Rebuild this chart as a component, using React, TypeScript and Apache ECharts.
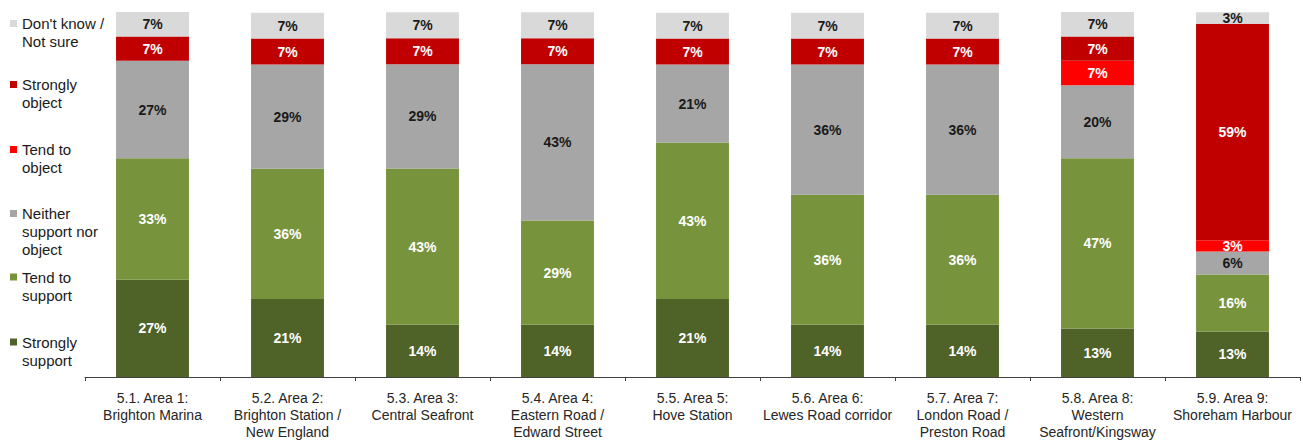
import React, { useEffect, useRef } from "react";
import * as echarts from "echarts";

const categories = [
  "5.1. Area 1:\nBrighton Marina",
  "5.2. Area 2:\nBrighton Station /\nNew England",
  "5.3. Area 3:\nCentral Seafront",
  "5.4. Area 4:\nEastern Road /\nEdward Street",
  "5.5. Area 5:\nHove Station",
  "5.6. Area 6:\nLewes Road corridor",
  "5.7. Area 7:\nLondon Road /\nPreston Road",
  "5.8. Area 8:\nWestern\nSeafront/Kingsway",
  "5.9. Area 9:\nShoreham Harbour",
];

const stronglySupport = [26.7, 21.4, 14.3, 14.3, 21.4, 14.3, 14.3, 13.3, 12.5];
const tendSupport = [33.3, 35.7, 42.9, 28.6, 42.9, 35.7, 35.7, 46.7, 15.6];
const neither = [26.7, 28.6, 28.6, 42.9, 21.4, 35.7, 35.7, 20.0, 6.3];
const tendObject = [0, 0, 0, 0, 0, 0, 0, 6.7, 3.1];
const stronglyObject = [6.7, 7.1, 7.1, 7.1, 7.1, 7.1, 7.1, 6.7, 59.4];
const dontKnow = [6.7, 7.1, 7.1, 7.1, 7.1, 7.1, 7.1, 6.7, 3.1];

const seriesDefs = [
  { name: "Strongly support", legend: ["Strongly", "support"], data: stronglySupport, color: "#4f6228", label: "#ffffff", center: 342 },
  { name: "Tend to support", legend: ["Tend to", "support"], data: tendSupport, color: "#77933c", label: "#ffffff", center: 277 },
  { name: "Neither support nor object", legend: ["Neither", "support nor", "object"], data: neither, color: "#a6a6a6", label: "#1a1a1a", center: 213.5 },
  { name: "Tend to object", legend: ["Tend to", "object"], data: tendObject, color: "#ff0000", label: "#ffffff", center: 149.5 },
  { name: "Strongly object", legend: ["Strongly", "object"], data: stronglyObject, color: "#c00000", label: "#ffffff", center: 84.5 },
  { name: "Don't know / Not sure", legend: ["Don't know /", "Not sure"], data: dontKnow, color: "#d9d9d9", label: "#1a1a1a", center: 23.5 },
];

const FONT = "'Liberation Sans', Arial, sans-serif";
const LH = 18;

export default function App() {
  const ref = useRef<HTMLDivElement>(null);
  useEffect(() => {
    if (!ref.current) return;
    const chart = echarts.init(ref.current, null, { renderer: "svg" });
    const legends = seriesDefs.map((s) => {
      const n = s.legend.length;
      // blank lines on top so that the first text line sits beside the icon
      const text = Array(n - 1).fill(" ").concat(s.legend).join("\n");
      const boxH = (2 * n - 1) * LH;
      return {
        orient: "vertical",
        left: 10,
        top: s.center - boxH / 2,
        padding: 0,
        itemWidth: 7,
        itemHeight: 7,
        itemGap: 0,
        icon: "rect",
        selectedMode: false,
        data: [s.name],
        formatter: () => text,
        textStyle: {
          fontFamily: FONT,
          fontSize: 15,
          color: "#1a1a1a",
          lineHeight: LH,
        },
      };
    });
    chart.setOption({
      animation: false,
      legend: legends,
      grid: { left: 85, right: 3, top: 12, bottom: 57, containLabel: false },
      xAxis: {
        type: "category",
        data: categories,
        axisLine: { lineStyle: { color: "#404040", width: 1 } },
        axisTick: { show: true, length: 4, lineStyle: { color: "#404040" } },
        axisLabel: {
          interval: 0,
          margin: 12,
          fontFamily: FONT,
          fontSize: 14,
          color: "#262626",
          lineHeight: 17,
        },
      },
      yAxis: {
        type: "value",
        min: 0,
        max: "dataMax",
        show: false,
        splitLine: { show: false },
      },
      series: seriesDefs.map((s) => ({
        name: s.name,
        type: "bar",
        stack: "total",
        barWidth: "54%",
        data: s.data,
        itemStyle: { color: s.color },
        label: {
          show: true,
          position: "inside",
          color: s.label,
          fontFamily: FONT,
          fontSize: 14,
          fontWeight: "bold",
          formatter: (p: any) => (p.value > 0 ? Math.round(p.value) + "%" : ""),
        },
      })),
    });
    return () => chart.dispose();
  }, []);
  return (
    <div
      ref={ref}
      style={{ position: "absolute", left: 0, top: 0, width: 1303, height: 440 }}
    />
  );
}
